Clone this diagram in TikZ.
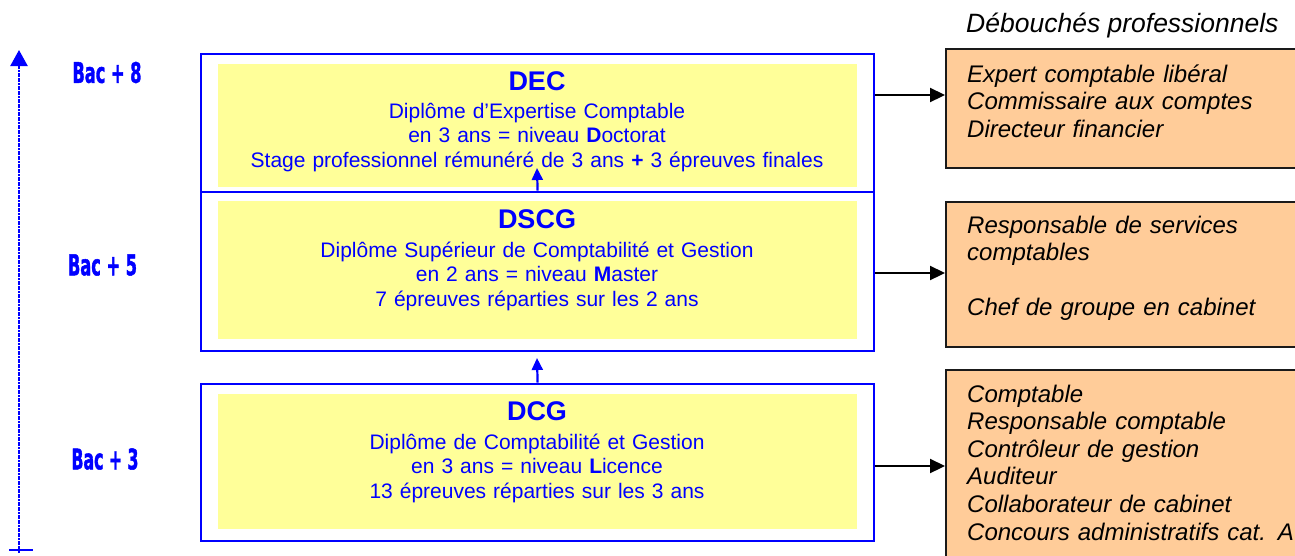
\documentclass[tikz,border=0pt]{standalone}
\usepackage{fontspec}
\usepackage{graphicx}
\setmainfont{Liberation Sans}
\newfontfamily\bacfont{DejaVu Sans}[BoldFeatures={FakeBold=1.8}]
\usetikzlibrary{arrows.meta}
\definecolor{ylw}{HTML}{FFFF99}
\definecolor{org}{HTML}{FFCC99}
\definecolor{bl}{HTML}{0000FF}
\definecolor{dk}{HTML}{1A1A1A}
\begin{document}
\begin{tikzpicture}[x=1pt,y=-1pt,
  bluebox/.style={draw=bl,line width=2.2pt,anchor=north west,inner sep=0pt,minimum width=673pt},
  yfill/.style={fill=ylw,anchor=north west,inner sep=0pt,minimum width=639pt},
  obox/.style={draw=dk,fill=org,line width=2pt,anchor=north west,inner sep=0pt,minimum width=370pt},
  ttl/.style={text=bl,anchor=base,inner sep=0pt,font=\fontsize{27pt}{30pt}\selectfont\bfseries},
  body/.style={text=bl,anchor=base,inner sep=0pt,text width=639pt,align=center,font=\fontsize{21pt}{24.5pt}\selectfont},
  otext/.style={anchor=base west,inner sep=0pt,text width=340pt,align=left,font=\fontsize{24pt}{27.6pt}\selectfont\itshape},
  bac/.style={text=bl,inner sep=0pt},
  blarrow/.style={draw=bl,line width=2.2pt,-{Triangle[width=11pt,length=12pt]}},
  barrow/.style={draw=black,line width=2.2pt,-{Triangle[width=14pt,length=15pt]}},
]
\useasboundingbox (0,0) rectangle (1295,555);

% vertical axis
\coordinate (axbot) at (19,553);
\coordinate (axtop) at (19,50);
\coordinate (tickl) at (9,550);
\coordinate (tickr) at (33,550);
\draw[draw=bl,line width=2.4pt,dash pattern=on 2pt off 0.6pt,-{Triangle[width=17pt,length=16pt]}] (axbot) -- (axtop);
\draw[draw=bl,line width=2pt] (tickl) -- (tickr);

% Bac labels
\node[bac] (bac8) at (107,72.5) {\resizebox{69pt}{21pt}{\bacfont\bfseries Bac + 8}};
\node[bac] (bac5) at (102.5,265) {\resizebox{69pt}{21pt}{\bacfont\bfseries Bac + 5}};
\node[bac] (bac3) at (105,459) {\resizebox{67pt}{21pt}{\bacfont\bfseries Bac + 3}};

% yellow fills
\node[yfill,minimum height=122.7pt] (decfill) at (218,64) {};
\node[yfill,minimum height=138pt] (dscgfill) at (218,201) {};
\node[yfill,minimum height=135pt] (dcgfill) at (218,394) {};

% blue boxes
\node[bluebox,minimum height=137.7pt] (decbox) at (200,53) {};
\node[bluebox,minimum height=159.3pt] (dscgbox) at (200,190.7) {};
\node[bluebox,minimum height=157.3pt] (dcgbox) at (200,382.7) {};

% texts
\node[ttl] (dect) at (537,90) {DEC};
\node[body] (decb) at (537,118) {Diplôme d’Expertise Comptable\\en 3 ans = niveau \textbf{D}octorat\\Stage professionnel rémunéré de 3 ans \textbf{+} 3 épreuves finales};
\node[ttl] (dscgt) at (537,228) {DSCG};
\node[body] (dscgb) at (537,257) {Diplôme Supérieur de Comptabilité et Gestion\\en 2 ans = niveau \textbf{M}aster\\7 épreuves réparties sur les 2 ans};
\node[ttl] (dcgt) at (537,420) {DCG};
\node[body] (dcgb) at (537,449) {Diplôme de Comptabilité et Gestion\\en 3 ans = niveau \textbf{L}icence\\13 épreuves réparties sur les 3 ans};

% arrows between boxes
\coordinate (tip1) at (537,168);
\coordinate (tip2) at (537,358);
\draw[blarrow] (dscgbox.north) -- (tip1);
\draw[blarrow] (dcgbox.north) -- (tip2);

% orange boxes
\node[anchor=base west,inner sep=0pt,font=\fontsize{26.5pt}{30pt}\selectfont\itshape] (deb) at (966,32) {Débouchés professionnels};
\node[obox,minimum height=119pt] (o1) at (945,47.7) {};
\node[obox,minimum height=144.7pt] (o2) at (945,201) {};
\node[obox,minimum height=200pt] (o3) at (945,369) {};
\node[otext] (o1t) at (967,82) {Expert comptable libéral\\Commissaire aux comptes\\Directeur financier};
\node[otext] (o2t) at (967,233) {Responsable de services\\comptables\\[27.6pt]Chef de groupe en cabinet};
\node[otext] (o3t) at (967,402) {Comptable\\Responsable comptable\\Contrôleur de gestion\\Auditeur\\Collaborateur de cabinet\\Concours administratifs cat. A};

% black arrows
\coordinate (a1) at (945,95);
\coordinate (a2) at (945,273);
\coordinate (a3) at (945,466);
\draw[barrow] (decbox.east |- a1) -- (a1);
\draw[barrow] (dscgbox.east |- a2) -- (a2);
\draw[barrow] (dcgbox.east |- a3) -- (a3);
\end{tikzpicture}
\end{document}
